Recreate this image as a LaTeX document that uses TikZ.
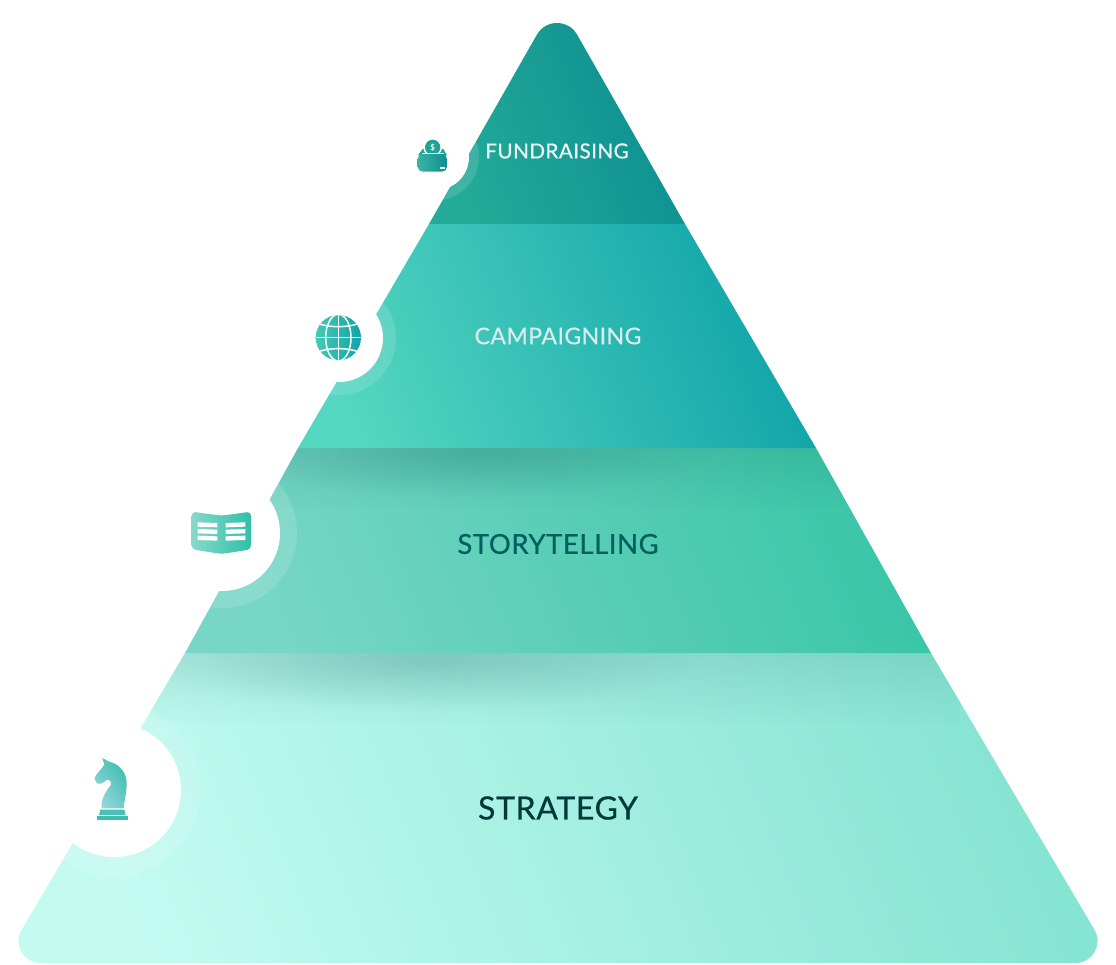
\documentclass[tikz,border=0pt]{standalone}
\usepackage{fontspec}
\setmainfont{Lato}
\usetikzlibrary{fadings}
\definecolor{topL}{HTML}{24AB98}
\definecolor{topR}{HTML}{0D8E91}
\definecolor{campL}{HTML}{54D6C0}
\definecolor{campR}{HTML}{10A4A9}
\definecolor{storyL}{HTML}{78D6C6}
\definecolor{storyR}{HTML}{3CC6A8}
\definecolor{stratL}{HTML}{C3FBF1}
\definecolor{stratR}{HTML}{86E4D2}
\definecolor{iconA}{HTML}{86D9CB}
\definecolor{iconB}{HTML}{2FBFA8}
\definecolor{knightA}{HTML}{96D8DC}
\definecolor{knightB}{HTML}{40BDB0}
\tikzfading[name=softspot, inner color=transparent!84, outer color=transparent!100]
\tikzfading[name=softband, top color=transparent!90, bottom color=transparent!100]
\newcommand{\topLayer}{(429,224) -- (537,34.5) .. controls (545.9,19.2) and (568.1,19.2) .. (577,34.5) -- (685,224) -- cycle}
\newcommand{\campLayer}{(429,224) -- (685,224) -- (816,448) -- (298,448) -- cycle}
\newcommand{\storyLayer}{(298,448) -- (816,448) -- (931,653) -- (185,653) -- cycle}
\newcommand{\stratLayer}{(185,653) -- (931,653) -- (1094.6,930) .. controls (1103.1,944.7) and (1092.5,963) .. (1075.5,963) -- (40.5,963) .. controls (23.5,963) and (12.9,944.7) .. (21.4,930) -- cycle}
\tikzset{
  label/.style={font=\fontsize{#1}{#1}\selectfont\addfontfeature{LetterSpace=2,FakeBold=0.6}},
  ring/.style={fill=white, fill opacity=0.13},
  hole/.style={fill=white},
  shadowspot/.style={fill=black!45!teal, path fading=softspot},
  shadowband/.style={fill=black!45!teal, path fading=softband},
}
\begin{document}
\begin{tikzpicture}[x=1pt,y=-1pt,line join=round]
  \useasboundingbox (0,0) rectangle (1116,965);
  \shade [left color=stratL, right color=stratR, shading angle=112] \stratLayer;
  \begin{scope}
    \clip \stratLayer;
    \fill [shadowband] (150,653) rectangle (960,725);
    \fill [shadowspot] (420,660) ellipse (280 and 50);
  \end{scope}
  \shade [left color=storyL, right color=storyR, shading angle=112] \storyLayer;
  \begin{scope}
    \clip \storyLayer;
    \fill [shadowband] (260,448) rectangle (860,510);
    \fill [shadowspot] (470,452) ellipse (240 and 45);
  \end{scope}
  \shade [left color=campL, right color=campR, shading angle=112] \campLayer;
  \shade [left color=topL, right color=topR, shading angle=112] \topLayer;

  % cut-outs, inner radius and outer ring
  \foreach \cx/\cy/\ri/\ro in {436/157/33/43,339/338/44/57,222/533/58/75,114/790/67/87} {
      \fill [ring] (\cx,\cy) circle (\ro);
      \fill [hole] (\cx,\cy) circle (\ri);
    }

  \node (fundraising) [label=20.7, text=white!92!teal] at (557,151) {FUNDRAISING};
  \node (campaigning) [label=23, text=white!85!teal] at (558,336) {CAMPAIGNING};
  \node (storytelling) [label=27.5, text=teal!75!black] at (558,544) {STORYTELLING};
  \node (strategy) [label=32, text=teal!45!black] at (558,808) {STRATEGY};

  % cash box
  \begin{scope}[shift={(412,138)},scale=1/3]
    \fill [topL!85!teal] (18,52) -- (32,33) -- (94,33) -- (105,52) -- cycle;
    \fill [white] (62,28) circle (28);
    \fill [white] (30,44) rectangle (95,48);
    \begin{scope}
      \clip (30,0) rectangle (95,44);
      \fill [topL!85!teal] (62,28) circle (23);
    \end{scope}
    \shade [left color=topL!90!white, right color=topR, rounded corners=5]
      (17,48) -- (105,48) -- (105,101) -- (17,101) -- cycle;
    \fill [white] (83,86) rectangle (100,92);
    \node (coin) [text=white, inner sep=0pt, font=\fontsize{8}{8}\selectfont\bfseries] at (62,28) {\$};
  \end{scope}

  % globe
  \begin{scope}[shift={(290,290)},scale=1/3]
    \shade [left color=campL!70!topL, right color=campR] (145,143) circle (68);
    \begin{scope}[white, line width=1.5pt]
      \clip (145,143) circle (68);
      \draw (145,75) -- (145,211);
      \draw (77,143) -- (213,143);
      \draw (145,143) ellipse (38 and 70);
      \draw (80,98) .. controls (110,114) and (180,114) .. (210,98);
      \draw (80,188) .. controls (110,172) and (180,172) .. (210,188);
    \end{scope}
  \end{scope}

  % book
  \begin{scope}[shift={(170,470)},scale=1/3]
    \shade [left color=iconA, right color=iconB, rounded corners=4]
      (65,125) -- (155,137) -- (243,125) -- (243,238) -- (155,252) -- (65,238) -- cycle;
    \foreach \y in {157,177,197} {
        \fill [white] (83,\y) -- (142,\y+2) -- (142,\y+15) -- (83,\y+13) -- cycle;
        \fill [white] (167,\y+2) -- (226,\y) -- (226,\y+13) -- (167,\y+15) -- cycle;
      }
  \end{scope}

  % chess knight
  \begin{scope}[shift={(85,750)},scale=1/3]
    \shade [left color=knightA, right color=knightB, shading angle=125]
      (52,24) -- (72,35) .. controls (105,42) and (125,70) .. (125,100)
      .. controls (125,130) and (118,150) .. (116,175) -- (50,175)
      .. controls (46,150) and (62,125) .. (78,104)
      .. controls (80,96) and (76,90) .. (66,89)
      .. controls (56,98) and (46,104) .. (36,100)
      -- (28,86) .. controls (34,70) and (48,60) .. (58,44) -- cycle;
    \fill [knightB!90!knightA] (46,179) -- (118,179) -- (122,195) -- (42,195) -- cycle;
    \fill [knightB] (36,199) rectangle (130,209);
  \end{scope}
\end{tikzpicture}
\end{document}
